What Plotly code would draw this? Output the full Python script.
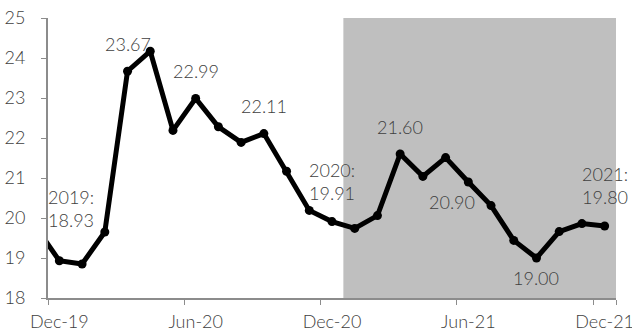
import plotly.graph_objects as go

# Monthly series, Nov-2019 through Dec-2021
months = ["Nov-19", "Dec-19",
          "Jan-20", "Feb-20", "Mar-20", "Apr-20", "May-20", "Jun-20",
          "Jul-20", "Aug-20", "Sep-20", "Oct-20", "Nov-20", "Dec-20",
          "Jan-21", "Feb-21", "Mar-21", "Apr-21", "May-21", "Jun-21",
          "Jul-21", "Aug-21", "Sep-21", "Oct-21", "Nov-21", "Dec-21"]
values = [19.75, 18.93,
          18.85, 19.65, 23.67, 24.17, 22.19, 22.99,
          22.28, 21.89, 22.11, 21.17, 20.19, 19.91,
          19.74, 20.06, 21.60, 21.04, 21.51, 20.90,
          20.31, 19.44, 19.00, 19.66, 19.86, 19.80]

tick_months = ["Dec-19", "Jun-20", "Dec-20", "Jun-21", "Dec-21"]

# Labelled points: quarter ends and year ends
label_months = ["Dec-19", "Mar-20", "Jun-20", "Sep-20", "Dec-20",
                "Mar-21", "Jun-21", "Sep-21", "Dec-21"]
label_prefix = ["2019:", "", "", "", "2020:", "", "", "", "2021:"]

shade_start, shade_end = "Jan-21", "Dec-21"

# label placement (pixel offsets from each point)
label_shift = {
    "Dec-19": (12, 52), "Mar-20": (0, 27), "Jun-20": (0, 27),
    "Sep-20": (0, 28), "Dec-20": (0, 40), "Mar-21": (0, 27),
    "Jun-21": (-16, -20), "Sep-21": (0, -20), "Dec-21": (0, 41),
}

FONT = "Lato"
TXT = "#404040"
AXIS = "#8c8c8c"
tfont = dict(family=FONT, size=18, color=TXT, weight=300)

idx = {m: i for i, m in enumerate(months)}

fig = go.Figure()
fig.add_trace(go.Scatter(
    x=months, y=values, mode="lines+markers",
    line=dict(color="black", width=5),
    marker=dict(color="black", size=9),
    hoverinfo="x+y", showlegend=False,
))

fig.add_shape(type="rect", xref="x", yref="y domain",
              x0=idx[shade_start] - 0.5, x1=idx[shade_end] + 0.5,
              y0=0, y1=1, fillcolor="#bfbfbf", line_width=0, layer="below")

for m, pre in zip(label_months, label_prefix):
    v = values[idx[m]]
    text = f"{v:.2f}" if not pre else f"{pre}<br>{v:.2f}"
    dx, dy = label_shift[m]
    fig.add_annotation(x=m, y=v, text=text, showarrow=False,
                       xshift=dx, yshift=dy, align="center", font=tfont)

fig.update_layout(
    width=632, height=335,
    margin=dict(l=48, r=16, t=18, b=37),
    paper_bgcolor="white", plot_bgcolor="white",
    font=tfont,
    xaxis=dict(type="category", categoryorder="array", categoryarray=months,
               range=[idx["Dec-19"] - 0.5, idx["Dec-21"] + 0.5],
               tickmode="array", tickvals=tick_months, tickson="boundaries",
               ticks="outside", ticklen=5, tickcolor=AXIS, tickangle=0,
               automargin=False, ticklabelstandoff=6,
               showline=True, linecolor=AXIS, linewidth=2,
               showgrid=False, zeroline=False, tickfont=tfont),
    yaxis=dict(range=[18, 25], dtick=1, ticks="outside", ticklen=5,
               tickcolor=AXIS, showline=True, linecolor=AXIS, linewidth=2,
               showgrid=False, zeroline=False, automargin=False,
               ticklabelstandoff=12, tickfont=tfont),
)

fig.write_html("out.html")
